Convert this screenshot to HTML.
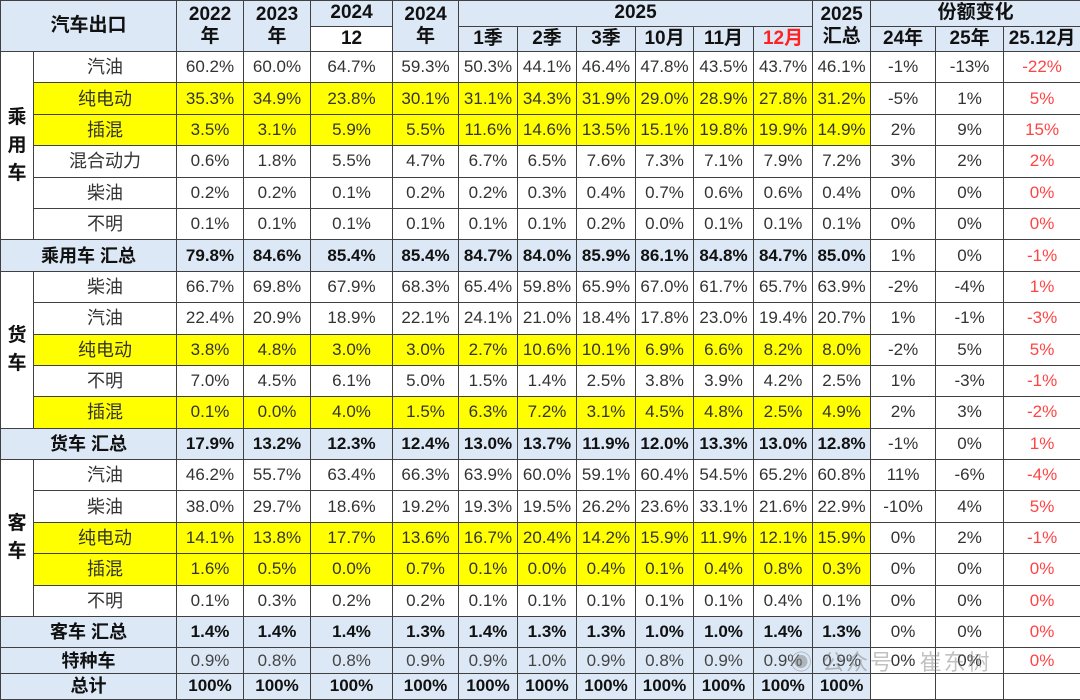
<!DOCTYPE html>
<html><head><meta charset="utf-8"><style>
body{margin:0;background:#fff;width:1080px;height:700px;overflow:hidden;font-family:"Liberation Sans","Noto Sans CJK SC",sans-serif;}
table{border-collapse:collapse;table-layout:fixed;position:absolute;left:0;top:0;width:1080px;}
td{border:1px solid #404040;text-align:center;vertical-align:middle;padding:0;font-size:17px;line-height:20px;color:#333;white-space:nowrap;overflow:hidden;}
.h td{background:#dce8f5;font-weight:bold;color:#111;font-size:19px;height:24.5px;line-height:22px}
tr.r td{height:30.4px}
.y td.v,.y td.l{background:#ffff00}
.s td{background:#dce8f5;font-weight:bold;color:#111}
.s td.c,.s td.c2,.s td.c3{background:#fff;font-weight:normal;color:#333}
.t td{height:24.6px}
.c3{color:#f44 !important}
.cat{font-weight:bold;color:#111;font-size:19px;line-height:28px;background:#fff}
.l{font-size:18px}
.sl{font-size:18px}
.wm{position:absolute;left:790px;top:645px;font-size:22px;color:rgba(120,120,120,.45);letter-spacing:2px}
</style></head><body>
<table>
<colgroup><col style="width:33px"><col style="width:143px"><col style="width:67px"><col style="width:67px"><col style="width:82px"><col style="width:66px"><col style="width:59px"><col style="width:59px"><col style="width:59px"><col style="width:58px"><col style="width:60px"><col style="width:59px"><col style="width:58px"><col style="width:65px"><col style="width:68px"><col style="width:77px"></colgroup>
<tr class="h"><td colspan="2" rowspan="2">汽车出口</td><td rowspan="2">2022<br>年</td><td rowspan="2">2023<br>年</td><td>2024</td><td rowspan="2">2024<br>年</td><td colspan="6">2025</td><td rowspan="2">2025<br>汇总</td><td colspan="3">份额变化</td></tr>
<tr class="h"><td style="background:#fff">12</td><td>1季</td><td>2季</td><td>3季</td><td>10月</td><td>11月</td><td style="color:#f22">12月</td><td>24年</td><td>25年</td><td>25.12月</td></tr>
<tr class="r"><td class="cat" rowspan="6">乘<br>用<br>车</td><td class="l">汽油</td><td class="v">60.2%</td><td class="v">60.0%</td><td class="v">64.7%</td><td class="v">59.3%</td><td class="v">50.3%</td><td class="v">44.1%</td><td class="v">46.4%</td><td class="v">47.8%</td><td class="v">43.5%</td><td class="v">43.7%</td><td class="v">46.1%</td><td class="c">-1%</td><td class="c2">-13%</td><td class="c3">-22%</td></tr>
<tr class="r y"><td class="l">纯电动</td><td class="v">35.3%</td><td class="v">34.9%</td><td class="v">23.8%</td><td class="v">30.1%</td><td class="v">31.1%</td><td class="v">34.3%</td><td class="v">31.9%</td><td class="v">29.0%</td><td class="v">28.9%</td><td class="v">27.8%</td><td class="v">31.2%</td><td class="c">-5%</td><td class="c2">1%</td><td class="c3">5%</td></tr>
<tr class="r y"><td class="l">插混</td><td class="v">3.5%</td><td class="v">3.1%</td><td class="v">5.9%</td><td class="v">5.5%</td><td class="v">11.6%</td><td class="v">14.6%</td><td class="v">13.5%</td><td class="v">15.1%</td><td class="v">19.8%</td><td class="v">19.9%</td><td class="v">14.9%</td><td class="c">2%</td><td class="c2">9%</td><td class="c3">15%</td></tr>
<tr class="r"><td class="l">混合动力</td><td>0.6%</td><td>1.8%</td><td>5.5%</td><td>4.7%</td><td>6.7%</td><td>6.5%</td><td>7.6%</td><td>7.3%</td><td>7.1%</td><td>7.9%</td><td>7.2%</td><td>3%</td><td>2%</td><td class="c3">2%</td></tr>
<tr class="r"><td class="l">柴油</td><td>0.2%</td><td>0.2%</td><td>0.1%</td><td>0.2%</td><td>0.2%</td><td>0.3%</td><td>0.4%</td><td>0.7%</td><td>0.6%</td><td>0.6%</td><td>0.4%</td><td>0%</td><td>0%</td><td class="c3">0%</td></tr>
<tr class="r"><td class="l">不明</td><td>0.1%</td><td>0.1%</td><td>0.1%</td><td>0.1%</td><td>0.1%</td><td>0.1%</td><td>0.2%</td><td>0.0%</td><td>0.1%</td><td>0.1%</td><td>0.1%</td><td>0%</td><td>0%</td><td class="c3">0%</td></tr>
<tr class="r s"><td colspan="2" class="sl">乘用车 汇总</td><td>79.8%</td><td>84.6%</td><td>85.4%</td><td>85.4%</td><td>84.7%</td><td>84.0%</td><td>85.9%</td><td>86.1%</td><td>84.8%</td><td>84.7%</td><td>85.0%</td><td class="c">1%</td><td class="c2">0%</td><td class="c3">-1%</td></tr>
<tr class="r"><td class="cat" rowspan="5">货<br>车</td><td class="l">柴油</td><td>66.7%</td><td>69.8%</td><td>67.9%</td><td>68.3%</td><td>65.4%</td><td>59.8%</td><td>65.9%</td><td>67.0%</td><td>61.7%</td><td>65.7%</td><td>63.9%</td><td>-2%</td><td>-4%</td><td class="c3">1%</td></tr>
<tr class="r"><td class="l">汽油</td><td>22.4%</td><td>20.9%</td><td>18.9%</td><td>22.1%</td><td>24.1%</td><td>21.0%</td><td>18.4%</td><td>17.8%</td><td>23.0%</td><td>19.4%</td><td>20.7%</td><td>1%</td><td>-1%</td><td class="c3">-3%</td></tr>
<tr class="r y"><td class="l">纯电动</td><td class="v">3.8%</td><td class="v">4.8%</td><td class="v">3.0%</td><td class="v">3.0%</td><td class="v">2.7%</td><td class="v">10.6%</td><td class="v">10.1%</td><td class="v">6.9%</td><td class="v">6.6%</td><td class="v">8.2%</td><td class="v">8.0%</td><td>-2%</td><td>5%</td><td class="c3">5%</td></tr>
<tr class="r"><td class="l">不明</td><td>7.0%</td><td>4.5%</td><td>6.1%</td><td>5.0%</td><td>1.5%</td><td>1.4%</td><td>2.5%</td><td>3.8%</td><td>3.9%</td><td>4.2%</td><td>2.5%</td><td>1%</td><td>-3%</td><td class="c3">-1%</td></tr>
<tr class="r y"><td class="l">插混</td><td class="v">0.1%</td><td class="v">0.0%</td><td class="v">4.0%</td><td class="v">1.5%</td><td class="v">6.3%</td><td class="v">7.2%</td><td class="v">3.1%</td><td class="v">4.5%</td><td class="v">4.8%</td><td class="v">2.5%</td><td class="v">4.9%</td><td>2%</td><td>3%</td><td class="c3">-2%</td></tr>
<tr class="r s"><td colspan="2" class="sl">货车 汇总</td><td>17.9%</td><td>13.2%</td><td>12.3%</td><td>12.4%</td><td>13.0%</td><td>13.7%</td><td>11.9%</td><td>12.0%</td><td>13.3%</td><td>13.0%</td><td>12.8%</td><td class="c">-1%</td><td class="c2">0%</td><td class="c3">1%</td></tr>
<tr class="r"><td class="cat" rowspan="5">客<br>车</td><td class="l">汽油</td><td>46.2%</td><td>55.7%</td><td>63.4%</td><td>66.3%</td><td>63.9%</td><td>60.0%</td><td>59.1%</td><td>60.4%</td><td>54.5%</td><td>65.2%</td><td>60.8%</td><td>11%</td><td>-6%</td><td class="c3">-4%</td></tr>
<tr class="r"><td class="l">柴油</td><td>38.0%</td><td>29.7%</td><td>18.6%</td><td>19.2%</td><td>19.3%</td><td>19.5%</td><td>26.2%</td><td>23.6%</td><td>33.1%</td><td>21.6%</td><td>22.9%</td><td>-10%</td><td>4%</td><td class="c3">5%</td></tr>
<tr class="r y"><td class="l">纯电动</td><td class="v">14.1%</td><td class="v">13.8%</td><td class="v">17.7%</td><td class="v">13.6%</td><td class="v">16.7%</td><td class="v">20.4%</td><td class="v">14.2%</td><td class="v">15.9%</td><td class="v">11.9%</td><td class="v">12.1%</td><td class="v">15.9%</td><td>0%</td><td>2%</td><td class="c3">-1%</td></tr>
<tr class="r y"><td class="l">插混</td><td class="v">1.6%</td><td class="v">0.5%</td><td class="v">0.0%</td><td class="v">0.7%</td><td class="v">0.1%</td><td class="v">0.0%</td><td class="v">0.4%</td><td class="v">0.1%</td><td class="v">0.4%</td><td class="v">0.8%</td><td class="v">0.3%</td><td>0%</td><td>0%</td><td class="c3">0%</td></tr>
<tr class="r"><td class="l">不明</td><td>0.1%</td><td>0.3%</td><td>0.2%</td><td>0.2%</td><td>0.1%</td><td>0.1%</td><td>0.1%</td><td>0.1%</td><td>0.1%</td><td>0.4%</td><td>0.1%</td><td>0%</td><td>0%</td><td class="c3">0%</td></tr>
<tr class="r s"><td colspan="2" class="sl">客车 汇总</td><td>1.4%</td><td>1.4%</td><td>1.4%</td><td>1.3%</td><td>1.4%</td><td>1.3%</td><td>1.3%</td><td>1.0%</td><td>1.0%</td><td>1.4%</td><td>1.3%</td><td class="c">0%</td><td class="c2">0%</td><td class="c3">0%</td></tr>
<tr class="t s"><td colspan="2" class="sl">特种车</td><td style="font-weight:normal;color:#444">0.9%</td><td style="font-weight:normal;color:#444">0.8%</td><td style="font-weight:normal;color:#444">0.8%</td><td style="font-weight:normal;color:#444">0.9%</td><td style="font-weight:normal;color:#444">0.9%</td><td style="font-weight:normal;color:#444">1.0%</td><td style="font-weight:normal;color:#444">0.9%</td><td style="font-weight:normal;color:#444">0.8%</td><td style="font-weight:normal;color:#444">0.9%</td><td style="font-weight:normal;color:#444">0.9%</td><td style="font-weight:normal;color:#444">0.9%</td><td class="c">0%</td><td class="c2">0%</td><td class="c3">0%</td></tr>
<tr class="t s"><td colspan="2" class="sl">总计</td><td>100%</td><td>100%</td><td>100%</td><td>100%</td><td>100%</td><td>100%</td><td>100%</td><td>100%</td><td>100%</td><td>100%</td><td>100%</td><td class="c"></td><td class="c2"></td><td class="c3"></td></tr>
</table>
<div class="wm">◉ 公众号 · 崔东树</div>
</body></html>
